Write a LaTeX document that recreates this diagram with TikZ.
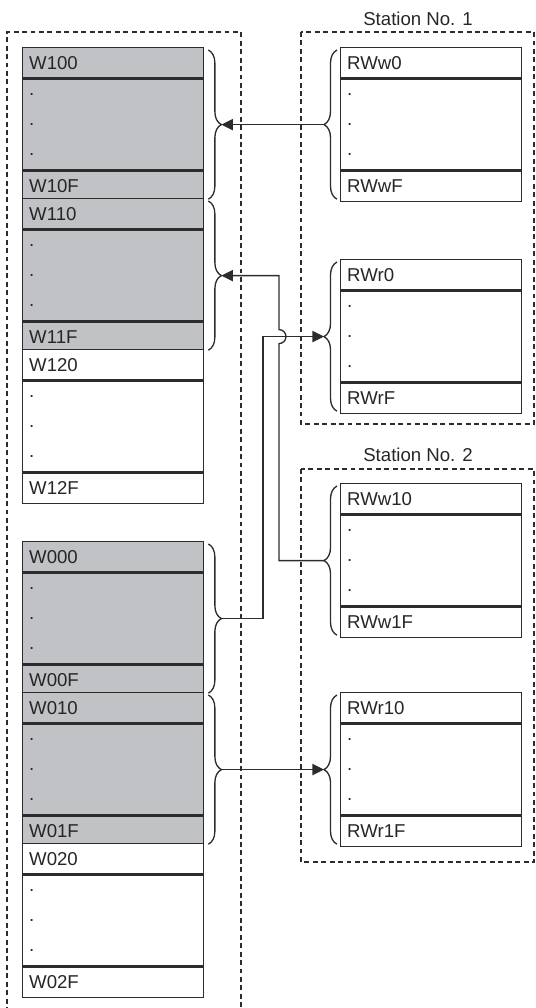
\documentclass[tikz,border=0pt]{standalone}
\usepackage{fontspec}
\setmainfont{Liberation Sans}
\usetikzlibrary{arrows.meta, positioning, calc, decorations.pathreplacing}
\definecolor{lnblack}{HTML}{2C2C2C}
\definecolor{regfill}{HTML}{C1C2C5}
\definecolor{txgray}{HTML}{262626}

\begin{document}
\begin{tikzpicture}[
    x=0.02cm, y=-0.02cm,
    >={Triangle[length=6.6pt, width=6.4pt]},
    every node/.style={text=txgray, font=\fontsize{10.6}{12.6}\selectfont},
    cell/.style={draw=lnblack, line width=0.8pt, minimum height=0.6cm,
      text width=3.36cm, inner xsep=0.13cm, inner ysep=0pt, align=left},
    midcell/.style={cell, minimum height=1.82cm,
      font=\fontsize{10.6}{17}\selectfont},
    brc/.style={draw=lnblack, line width=0.75pt,
      decorate, decoration={brace, amplitude=7.4pt}},
    link/.style={draw=lnblack, line width=0.75pt, ->},
    dashbox/.style={draw=lnblack, line width=0.65pt, dash pattern=on 2.8pt off 2pt},
  ]

  \useasboundingbox (0,0) rectangle (536,1008);

  % === Master side (link registers) ===
  \draw[dashbox] (7,1012) -- (7,32) -- (241,32) -- (241,1012);

  \foreach \i/\ty/\ta/\tb/\fl in {1/47/W100/W10F/regfill, 2/198/W110/W11F/regfill,
      3/349/W120/W12F/white, 4/541/W000/W00F/regfill,
      5/692/W010/W01F/regfill, 6/843/W020/W02F/white} {
    \node[cell, fill=\fl, anchor=north west] (L\i-top) at (22,\ty) {\ta};
    \node[midcell, fill=\fl, below=0pt of L\i-top] (L\i-mid) {.\\.\\.};
    \node[cell, fill=\fl, below=0pt of L\i-mid] (L\i-bot) {\tb};
  }

  % === Stations ===
  \draw[dashbox] (301,32) rectangle (534,424);
  \node (st1) at (418,19) {Station No. 1};
  \draw[dashbox] (301,469) rectangle (534,862);
  \node (st2) at (418,455) {Station No. 2};

  \foreach \i/\ty/\ta/\tb in {1/47/RWw0/RWwF, 2/259/RWr0/RWrF,
      3/483/RWw10/RWw1F, 4/692/RWr10/RWr1F} {
    \node[cell, fill=white, anchor=north west] (R\i-top) at (340,\ty) {\ta};
    \node[midcell, fill=white, below=0pt of R\i-top] (R\i-mid) {.\\.\\.};
    \node[cell, fill=white, below=0pt of R\i-mid] (R\i-bot) {\tb};
  }

  % Braces
  \foreach \i in {1,2,4,5} {
    \draw[brc] ($(L\i-top.north east)+(4,3)$) -- ($(L\i-bot.south east)+(4,-3)$);
    \coordinate (L\i-tip) at ($(L\i-mid.east)+(17,0)$);
  }
  \foreach \i in {1,...,4} {
    \draw[brc] ($(R\i-bot.south west)+(-3,-3)$) -- ($(R\i-top.north west)+(-3,3)$);
    \coordinate (R\i-tip) at ($(R\i-mid.west)+(-16,0)$);
  }

  % Links
  \coordinate (busL) at (263,0);
  \coordinate (busR) at (279,0);
  \draw[link] (R1-tip) -- (L1-tip);
  \draw[link] (R3-tip) -| ($(busR |- R2-tip)+(0,7)$)
    arc[start angle=90, end angle=-90, radius=7] |- (L2-tip);
  \draw[link] (L4-tip) -| (busL |- R2-tip) -- (R2-tip);
  \draw[link] (L5-tip) -- (R4-tip);

\end{tikzpicture}
\end{document}
